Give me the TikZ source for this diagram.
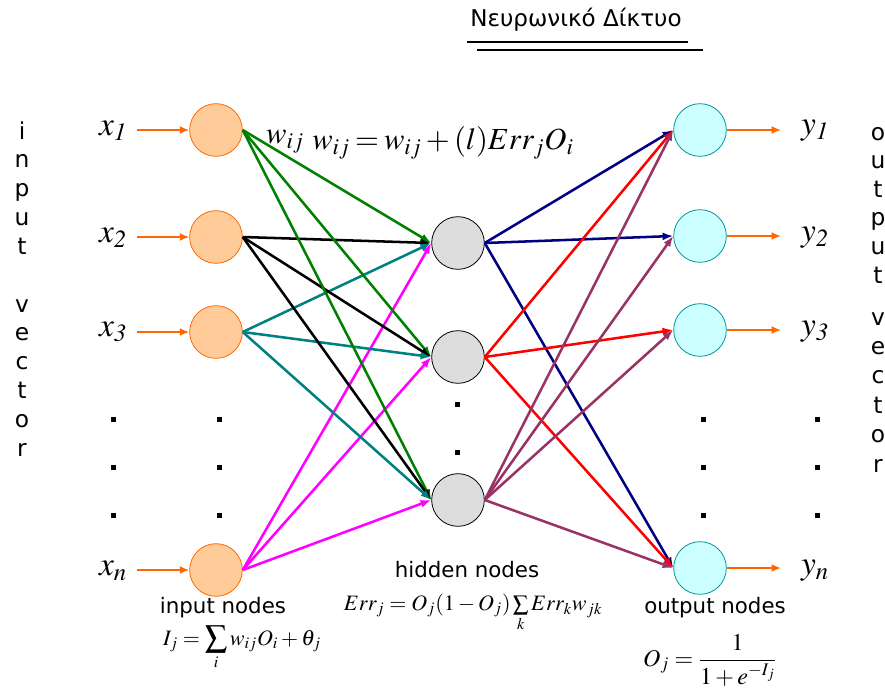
\documentclass[tikz,border=0pt]{standalone}
\usepackage{mathptmx}
\usepackage{fontspec}
\newfontfamily\tahoma{DejaVu Sans}
\usetikzlibrary{arrows.meta}
\definecolor{peach}{RGB}{255,204,153}
\definecolor{orangeline}{RGB}{255,102,0}
\definecolor{ltgray}{RGB}{221,221,221}
\definecolor{ltcyan}{RGB}{204,255,255}
\definecolor{tealline}{RGB}{0,150,150}
\definecolor{wgreen}{RGB}{0,128,0}
\definecolor{wteal}{RGB}{0,128,128}
\definecolor{wmagenta}{RGB}{255,0,255}
\definecolor{wnavy}{RGB}{0,0,128}
\definecolor{wred}{RGB}{255,0,0}
\definecolor{wplum}{RGB}{153,51,102}

\tikzset{
  neuron/.style={circle, inner sep=0pt, minimum size=39.5pt, line width=0.6pt},
  inp/.style={neuron, draw=orangeline, fill=peach},
  hid/.style={neuron, draw=black, fill=ltgray},
  outp/.style={neuron, draw=tealline, fill=ltcyan},
  wire/.style={-{Latex[length=8pt,width=6pt]}, line width=1.9pt},
  feed/.style={-{Latex[length=7pt,width=6pt]}, line width=1.8pt, orangeline},
  vec/.style={font=\tahoma\fontsize{17.5}{18}\selectfont, anchor=base, inner sep=0pt},
  sans/.style={font=\tahoma\fontsize{16}{19}\selectfont, inner sep=0pt},
  big/.style={font=\fontsize{25}{28}\selectfont, inner sep=0pt},
  small/.style={font=\fontsize{16.5}{19}\selectfont, inner sep=0pt}
}

\begin{document}
\begin{tikzpicture}[x=0.75pt, y=-0.75pt]
\useasboundingbox (0,0) rectangle (885,696);

\node[sans, font=\tahoma\fontsize{17.3}{20}\selectfont] (title) at (576,20) {Νευρωνικό Δίκτυο};
\draw[line width=1.1pt] (467,42) -- (688,42);
\draw[line width=1.1pt] (477,50) -- (703,50);

\node[inp] (I1) at (216,130) {};
\node[inp] (I2) at (216,237) {};
\node[inp] (I3) at (216,332) {};
\node[inp] (In) at (216,570) {};

\node[hid] (H1) at (458,243) {};
\node[hid] (H2) at (458,357) {};
\node[hid] (H3) at (458,500) {};

\node[outp] (O1) at (700,130) {};
\node[outp] (O2) at (700,236) {};
\node[outp] (O3) at (700,330) {};
\node[outp] (On) at (700,568) {};

\coordinate (X1) at (137,130);
\coordinate (X2) at (137,237);
\coordinate (X3) at (137,332);
\coordinate (Xn) at (137,570);
\coordinate (Y1) at (781,130);
\coordinate (Y2) at (781,236);
\coordinate (Y3) at (781,330);
\coordinate (Yn) at (781,568);

\draw[feed] (X1) -- (I1);
\draw[feed] (X2) -- (I2);
\draw[feed] (X3) -- (I3);
\draw[feed] (Xn) -- (In);
\draw[feed] (O1) -- (Y1);
\draw[feed] (O2) -- (Y2);
\draw[feed] (O3) -- (Y3);
\draw[feed] (On) -- (Yn);

\foreach \h in {1,2,3} {
  \draw[wire, wgreen] (I1.east) -- (H\h.west);
  \draw[wire, black] (I2.east) -- (H\h.west);
  \draw[wire, wteal] (I3.east) -- (H\h.west);
  \draw[wire, wmagenta] (In.east) -- (H\h.west);
}
\foreach \o in {1,2,n} \draw[wire, wnavy] (H1.east) -- (O\o.west);
\foreach \o in {1,3,n} \draw[wire, wred] (H2.east) -- (O\o.west);
\foreach \o in {1,2,3,n} \draw[wire, wplum] (H3.east) -- (O\o.west);

\node[big] (x1) at (113,131) {$x_{\mathit{1}}$};
\node[big] (x2) at (113,238) {$x_{\mathit{2}}$};
\node[big] (x3) at (113,332) {$x_{\mathit{3}}$};
\node[big] (xn) at (113,571) {$x_n$};
\node[big] (y1) at (815,131) {$y_{\mathit{1}}$};
\node[big] (y2) at (815,238) {$y_{\mathit{2}}$};
\node[big] (y3) at (815,332) {$y_{\mathit{3}}$};
\node[big] (yn) at (815,571) {$y_n$};

\node[big, font=\fontsize{23}{26}\selectfont] (wij) at (285,142) {$w_{ij}$};
\node[big, font=\fontsize{23}{26}\selectfont, anchor=west] (update) at (312,143)
  {$\thickmuskip=3mu \medmuskip=2.5mu w_{ij}=w_{ij}+(l)Err_jO_i$};

\foreach \x in {113,219,703,817}
  \foreach \y in {419,467,515}
    \fill (\x,\y) +(-2.5,-2.5) rectangle +(2.5,2.5);
\fill (457,404) +(-2.5,-2.5) rectangle +(2.5,2.5);
\fill (457,452) +(-2.5,-2.5) rectangle +(2.5,2.5);

\foreach \ch [count=\k from 0] in {i,n,p,u,t}
  \node[vec] (inl\k) at (22,139+28.8*\k) {\ch};
\foreach \ch [count=\k from 0] in {v,e,c,t,o,r}
  \node[vec] (inv\k) at (22,312+28.8*\k) {\ch};
\foreach \ch [count=\k from 0] in {o,u,t,p,u,t}
  \node[vec] (outl\k) at (878,140+28.6*\k) {\ch};
\foreach \ch [count=\k from 0] in {v,e,c,t,o,r}
  \node[vec] (outv\k) at (878,325+29.4*\k) {\ch};

\node[sans] (hidlab) at (467,570) {hidden nodes};
\node[sans] (inlab) at (223,608) {input nodes};
\node[sans] (outlab) at (715,608) {output nodes};

\node[small] (errf) at (473,613) {$Err_j=O_j(1-O_j)\sum\limits_k Err_kw_{jk}$};
\node[small] (inf) at (242,648) {$I_j=\displaystyle\sum_i w_{ij}O_i+\theta_j$};
\node[small, font=\fontsize{18}{21}\selectfont] (outf) at (710,660) {$\displaystyle O_j=\frac{1}{1+e^{-I_j}}$};
\end{tikzpicture}
\end{document}
